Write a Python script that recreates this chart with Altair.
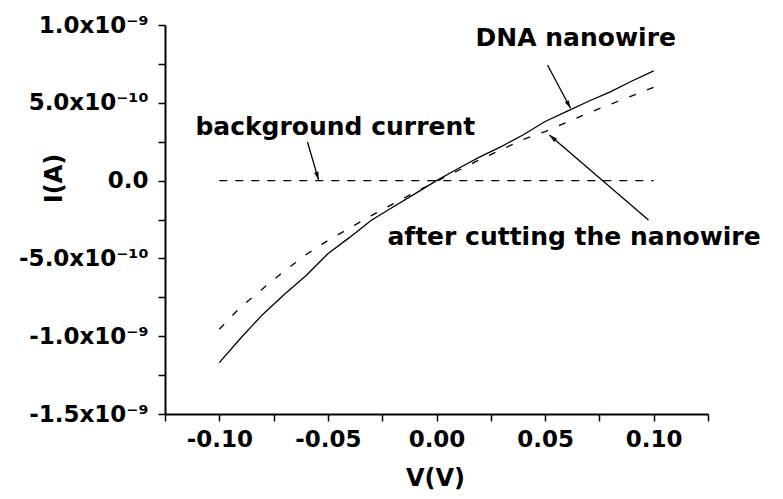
import math
import altair as alt
import pandas as pd

# ---- data (current in units of 1e-10 A) ----
V = [-0.10, -0.09, -0.08, -0.07, -0.06, -0.05, -0.04, -0.03, -0.02, -0.01, 0.00,
     0.01, 0.02, 0.03, 0.04, 0.05, 0.06, 0.07, 0.08, 0.09, 0.10]
I_dna = [-11.7, -10.1, -8.6, -7.3, -6.1, -4.7, -3.65, -2.55, -1.7, -0.85, 0.0,
         0.78, 1.52, 2.2, 2.95, 3.8, 4.45, 5.1, 5.7, 6.4, 7.05]
I_cut = [-9.55, -8.1, -6.95, -5.8, -4.75, -3.85, -3.05, -2.25, -1.5, -0.75, -0.05,
         0.65, 1.35, 2.0, 2.65, 3.15, 3.75, 4.35, 4.9, 5.45, 6.0]
I_bg = [0.0, 0.0, 0.0, 0.0, 0.0, 0.0, 0.0, 0.0, 0.0, 0.0, 0.0,
        0.0, 0.0, 0.0, 0.0, 0.0, 0.0, 0.0, 0.0, 0.0, 0.0]

label_text = ["DNA nanowire", "background current", "after cutting the nanowire"]
label_V = [0.018, -0.111, -0.0226]
label_I = [8.65, 2.93, -4.14]

arrow_start_V = [0.0511, -0.0594, 0.0976]
arrow_start_I = [7.43, 2.48, -2.53]
arrow_tip_V = [0.0617, -0.0543, 0.052]
arrow_tip_I = [4.65, 0.05, 2.93]

x_tick_values = [-0.125, -0.10, -0.075, -0.05, -0.025, 0.0, 0.025, 0.05, 0.075, 0.10, 0.125]
x_tick_labels = ["", "-0.10", "", "-0.05", "", "0.00", "", "0.05", "", "0.10", ""]
y_tick_values = [-15, -12.5, -10, -7.5, -5, -2.5, 0, 2.5, 5, 7.5, 10]
y_tick_labels = ["-1.5x10\u207b\u2079", "", "-1.0x10\u207b\u2079", "", "-5.0x10\u207b\u00b9\u2070", "",
                 "0.0", "", "5.0x10\u207b\u00b9\u2070", "", "1.0x10\u207b\u2079"]

X_DOMAIN = [-0.125, 0.125]
Y_DOMAIN = [-15, 10]
W, H = 543, 389
FONT = "DejaVu Sans"


def label_expr(values, labels):
    expr = "''"
    for v, lab in reversed(list(zip(values, labels))):
        expr = f"abs(datum.value - ({v})) < 1e-6 ? '{lab}' : ({expr})"
    return expr


x_enc = alt.X(
    "V:Q",
    scale=alt.Scale(domain=X_DOMAIN, nice=False, zero=False),
    axis=alt.Axis(
        values=x_tick_values, labelExpr=label_expr(x_tick_values, x_tick_labels),
        title="V(V)", titleX=270, titleY=64, titleBaseline="middle",
        tickSize=7, tickWidth=1.5, domainWidth=2, domainColor="black", tickColor="black",
        labelFont=FONT, labelFontSize=23, labelFontWeight="bold", labelColor="black",
        labelPadding=7, labelFlush=False, labelOverlap=False, grid=False,
        titleFont=FONT, titleFontSize=24, titleFontWeight="bold", titleColor="black",
    ),
)
y_enc = alt.Y(
    "I:Q",
    scale=alt.Scale(domain=Y_DOMAIN, nice=False, zero=False),
    axis=alt.Axis(
        values=y_tick_values, labelExpr=label_expr(y_tick_values, y_tick_labels),
        title="I(A)", titleX=-111, titleY=153, titleAngle=270, titleBaseline="middle",
        titleAlign="center",
        tickSize=7, tickWidth=1.5, domainWidth=2, domainColor="black", tickColor="black",
        labelFont=FONT, labelFontSize=23, labelFontWeight="bold", labelColor="black",
        labelPadding=10, labelFlush=False, labelOverlap=False, grid=False,
        titleFont=FONT, titleFontSize=24, titleFontWeight="bold", titleColor="black",
    ),
)

df_dna = pd.DataFrame({"V": V, "I": I_dna})
df_cut = pd.DataFrame({"V": V, "I": I_cut})
df_bg = pd.DataFrame({"V": V, "I": I_bg})
df_lab = pd.DataFrame({"V": label_V, "I": label_I, "label": label_text})

px_per_V = W / (X_DOMAIN[1] - X_DOMAIN[0])
px_per_I = H / (Y_DOMAIN[1] - Y_DOMAIN[0])
angles = []
for sv, si, tv, ti in zip(arrow_start_V, arrow_start_I, arrow_tip_V, arrow_tip_I):
    dx = (tv - sv) * px_per_V
    dy = -(ti - si) * px_per_I
    angles.append(math.degrees(math.atan2(dx, -dy)) % 360)

df_arrow = pd.DataFrame({"V": arrow_start_V, "I": arrow_start_I,
                         "V2": arrow_tip_V, "I2": arrow_tip_I})
df_head = pd.DataFrame({"V": arrow_tip_V, "I": arrow_tip_I, "angle": angles})

dna = alt.Chart(df_dna).mark_line(color="black", strokeWidth=1.3).encode(x=x_enc, y=y_enc, order="V:Q")
cut = alt.Chart(df_cut).mark_line(color="black", strokeWidth=1.3, strokeDash=[7, 12]).encode(
    x=x_enc, y=y_enc, order="V:Q")
bg = alt.Chart(df_bg).mark_line(color="black", strokeWidth=1.3, strokeDash=[8, 8]).encode(
    x=x_enc, y=y_enc, order="V:Q")

texts = alt.Chart(df_lab).mark_text(
    align="left", baseline="alphabetic", font=FONT, fontSize=25, fontWeight="bold", color="black"
).encode(x=x_enc, y=y_enc, text="label:N")

arrows = alt.Chart(df_arrow).mark_rule(color="black", strokeWidth=1.3).encode(
    x=x_enc, y=y_enc, x2="V2:Q", y2="I2:Q")

heads = alt.Chart(df_head).mark_point(
    shape="M0,0L0.45,1.6L-0.45,1.6Z", filled=True, size=100, color="black", opacity=1, strokeWidth=0
).encode(x=x_enc, y=y_enc, angle=alt.Angle("angle:Q", scale=None))

chart = alt.layer(bg, cut, dna, arrows, heads, texts).properties(
    width=W, height=H,
    autosize=alt.AutoSizeParams(type="none"),
    padding={"left": 157, "top": 17, "right": 60, "bottom": 76},
).configure(
    background="white",
    view=alt.ViewConfig(strokeWidth=0, stroke="transparent"),
)

chart.save("out.html", embed_options={"renderer": "svg", "actions": False})
